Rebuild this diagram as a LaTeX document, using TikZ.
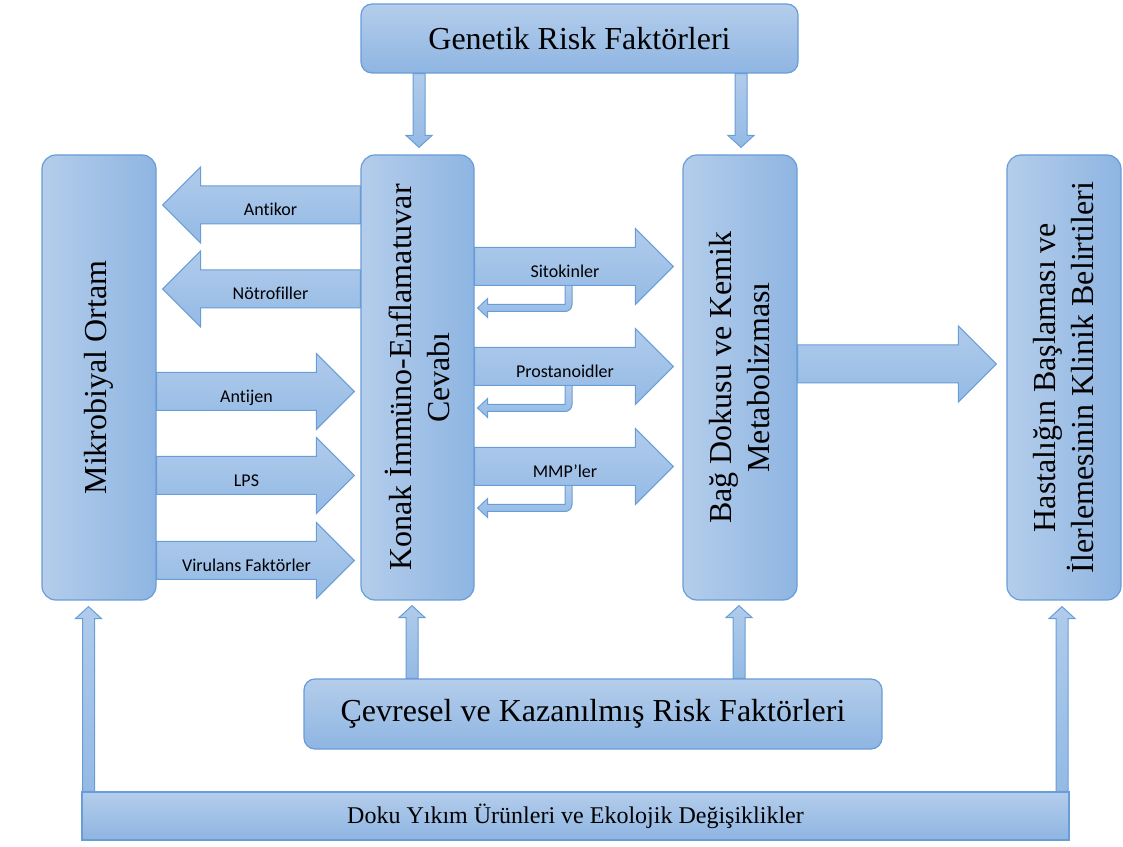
\documentclass[tikz,border=0pt]{standalone}
\usepackage{fontspec}
\setmainfont{Liberation Serif}
\newfontfamily\lblfont[Ligatures=NoCommon]{Carlito}
\usetikzlibrary{calc}

\definecolor{bxlight}{RGB}{180,205,235}
\definecolor{bxdark}{RGB}{142,181,226}
\definecolor{bxedge}{RGB}{104,157,215}
\definecolor{arlight}{RGB}{176,203,235}
\definecolor{ardark}{RGB}{148,186,229}

\tikzset{
  box/.style={draw=bxedge, line width=1.2pt, rounded corners=14pt, inner sep=0pt},
  vbox/.style={box, left color=bxlight, right color=bxdark, minimum width=114pt, minimum height=445pt},
  hbox/.style={box, rounded corners=11pt, top color=bxlight, bottom color=bxdark},
  boxtext/.style={font=\fontsize{32}{38}\selectfont, align=center},
  fatarr/.style={draw=bxedge, line width=1pt, top color=arlight, bottom color=ardark},
  thinarr/.style={draw=bxedge, line width=1pt, top color=arlight, bottom color=ardark},
  lbl/.style={font=\lblfont\fontsize{18}{20}\selectfont, anchor=base, inner sep=0pt}
}

% start, end, y, gap, label, name
\newcommand{\fatarrow}[6]{%
  \path[fatarr] let \p1=(#1), \p2=(#2), \n1={sign(\x2-\x1)},
      \n2={\x2-\n1*#4}, \n3={\x2-\n1*#4-\n1*38} in
    (\x1,{#3pt-19pt}) -- (\n3,{#3pt-19pt}) -- (\n3,{#3pt-38pt})
    -- (\n2,#3pt) -- (\n3,{#3pt+38pt}) -- (\n3,{#3pt+19pt})
    -- (\x1,{#3pt+19pt}) -- cycle;
  \path let \p1=(#1), \p2=(#2), \n1={sign(\x2-\x1)},
      \n4={\x1/2+\x2/2-\n1*#4/2-\n1*9} in
    (\n4,{#3pt-11pt}) node[lbl] (#6) {#5};}

% start, end, x, gap
\newcommand{\thinarrow}[4]{%
  \path[thinarr] let \p1=(#1), \p2=(#2), \n1={sign(\y2-\y1)},
      \n2={\y2-\n1*#4}, \n3={\y2-\n1*#4-\n1*12} in
    ({#3pt-6pt},\y1) -- ({#3pt-6pt},\n3) -- ({#3pt-13pt},\n3)
    -- (#3pt,\n2) -- ({#3pt+13pt},\n3) -- ({#3pt+6pt},\n3)
    -- ({#3pt+6pt},\y1) -- cycle;}

% target, y of shaft bottom
\newcommand{\backarrow}[2]{%
  \path[thinarr] let \p1=(#1), \n1={\x1+13pt}, \n2={\x1+3pt} in
    (565pt,#2pt) -- (565pt,{#2pt-19pt}) -- (\n1,{#2pt-19pt}) -- (\n1,{#2pt-13pt})
    -- (\n2,{#2pt-22.5pt}) -- (\n1,{#2pt-32pt}) -- (\n1,{#2pt-26pt}) -- (565pt,{#2pt-26pt})
    arc[start angle=-90, end angle=0, radius=7pt] -- (572pt,#2pt) -- cycle;}

\begin{document}
\begin{tikzpicture}[x=1pt, y=1pt]
\useasboundingbox (0,0) rectangle (1123,846);

\node[hbox, minimum width=437pt, minimum height=69pt] (gen) at (579.5,807.5) {};
\node[boxtext] (gentxt) at (gen) {Genetik Risk Faktörleri};

\node[vbox] (mikro) at (99,468.5) {};
\node[vbox, minimum width=113pt] (konak) at (417.5,468.5) {};
\node[vbox] (bag) at (740,468.5) {};
\node[vbox] (hasta) at (1064,468.5) {};
\node[boxtext, rotate=90] (mikrotxt) at (mikro) {Mikrobiyal Ortam};
\node[boxtext, rotate=90] (konaktxt) at (konak) {Konak İmmüno-Enflamatuvar\\Cevabı};
\node[boxtext, rotate=90] (bagtxt) at (bag) {Bağ Dokusu ve Kemik\\Metabolizması};
\node[boxtext, rotate=90] (hastatxt) at (hasta) {Hastalığın Başlaması ve\\İlerlemesinin Klinik Belirtileri};

\node[hbox, minimum width=578pt, minimum height=70pt] (cevre) at (593,132) {};
\node[boxtext] (cevretxt) at (cevre) {Çevresel ve Kazanılmış Risk Faktörleri};

\node[hbox, sharp corners, minimum width=987pt, minimum height=48pt] (doku) at (575.5,30) {};
\node[font=\fontsize{24}{28}\selectfont] (dokutxt) at (doku) {Doku Yıkım Ürünleri ve Ekolojik Değişiklikler};

\backarrow{konak.east}{560.5}
\backarrow{konak.east}{460.5}
\backarrow{konak.east}{360.5}

\fatarrow{konak.west}{mikro.east}{641}{6}{Antikor}{antikor}
\fatarrow{konak.west}{mikro.east}{557}{6}{Nötrofiller}{notro}
\fatarrow{mikro.east}{konak.west}{454.5}{6}{Antijen}{antijen}
\fatarrow{mikro.east}{konak.west}{370.5}{6}{LPS}{lps}
\fatarrow{mikro.east}{konak.west}{285.5}{6}{Virulans Faktörler}{virulans}
\fatarrow{konak.east}{bag.west}{579.5}{9}{Sitokinler}{sitokin}
\fatarrow{konak.east}{bag.west}{479.5}{9}{Prostanoidler}{prostan}
\fatarrow{konak.east}{bag.west}{379.5}{9}{MMP’ler}{mmp}
\fatarrow{bag.east}{hasta.west}{482}{10}{}{klinik}

\thinarrow{gen.south}{konak.north}{419}{7}
\thinarrow{gen.south}{bag.north}{741}{7}
\thinarrow{cevre.north}{konak.south}{412}{5}
\thinarrow{cevre.north}{bag.south}{739}{5}
\thinarrow{doku.north}{mikro.south}{88.5}{6}
\thinarrow{doku.north}{hasta.south}{1062}{6}
\end{tikzpicture}
\end{document}
